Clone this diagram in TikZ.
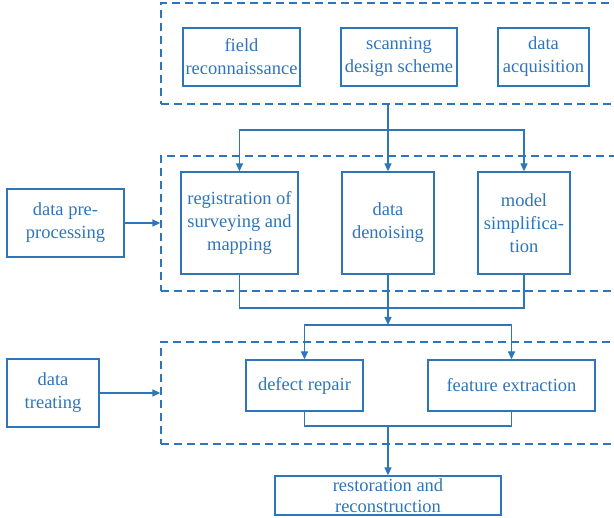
\documentclass[tikz,border=0pt]{standalone}
\usepackage{fontspec}
\setmainfont{Liberation Serif}
\usetikzlibrary{arrows.meta}
\definecolor{flowblue}{RGB}{46,117,186}
\begin{document}
\begin{tikzpicture}[x=1pt,y=-1pt,
  stepbox/.style={draw=flowblue, line width=1.3pt, text=flowblue, align=center,
    inner sep=0pt, font=\fontsize{18.5}{23}\selectfont},
  group/.style={draw=flowblue, line width=1.3pt, dash pattern=on 8pt off 5pt, inner sep=0pt},
  link/.style={draw=flowblue, line width=1.3pt},
  arr/.style={link, -{Triangle[length=8pt,width=7pt]}}]
\useasboundingbox (0,0) rectangle (614,518);
\clip (0,0) rectangle (614,518);

% dashed stage frames (open towards the right edge)
\node[group, minimum width=479pt, minimum height=101pt] (g1) at (400.5,53.5) {};
\node[group, minimum width=479pt, minimum height=135pt] (g2) at (400.5,223.5) {};
\node[group, minimum width=479pt, minimum height=102pt] (g3) at (400.5,393) {};

% stage 1: acquisition
\node[stepbox, minimum width=117pt, minimum height=58pt] (fld) at (241.5,57) {field\\reconnaissance};
\node[stepbox, minimum width=116pt, minimum height=58pt] (scn) at (399,57) {scanning\\design scheme};
\node[stepbox, minimum width=91pt, minimum height=58pt] (acq) at (543.5,57) {data\\acquisition};

% stage 2: pre-processing
\node[stepbox, minimum width=117pt, minimum height=68pt] (pre) at (65.5,223) {data pre-\\processing};
\node[stepbox, minimum width=117pt, minimum height=102pt] (reg) at (239.5,223) {registration of\\surveying and\\mapping};
\node[stepbox, minimum width=92pt, minimum height=102pt] (den) at (388,223) {data\\denoising};
\node[stepbox, minimum width=92pt, minimum height=102pt] (mod) at (524,223) {model\\simplifica-\\tion};

% stage 3: treating
\node[stepbox, minimum width=92pt, minimum height=68pt] (trt) at (53,393) {data\\treating};
\node[stepbox, minimum width=117pt, minimum height=51pt] (def) at (304.5,385.5) {defect repair};
\node[stepbox, minimum width=167pt, minimum height=51pt] (fea) at (511.5,385.5) {feature extraction};

% result
\node[stepbox, minimum width=226pt, minimum height=39pt,
  font=\fontsize{18.5}{21.5}\selectfont] (res) at (388,495.5) {restoration and\\reconstruction};

% branch and merge points
\coordinate (split1) at (388,130);
\coordinate (join1) at (388,308);
\coordinate (split2) at (388,325);
\coordinate (join2) at (388,426);

% stage 1 -> stage 2
\draw[arr] (g1.south -| den) -- (den.north);
\draw[arr] (split1) -| (reg.north);
\draw[arr] (split1) -| (mod.north);

% stage 2 -> stage 3
\draw[link] (reg.south) |- (join1) -| (mod.south);
\draw[link] (den.south) -- (join1);
\draw[arr] (join1) -- (split2);
\draw[arr] (split2) -| (def.north);
\draw[arr] (split2) -| (fea.north);

% stage 3 -> result
\draw[link] (def.south) |- (join2) -| (fea.south);
\draw[arr] (join2) -- (res.north);

% side labels
\draw[arr] (pre.east) -- (pre.east -| g2.west);
\draw[arr] (trt.east) -- (trt.east -| g3.west);
\end{tikzpicture}
\end{document}
